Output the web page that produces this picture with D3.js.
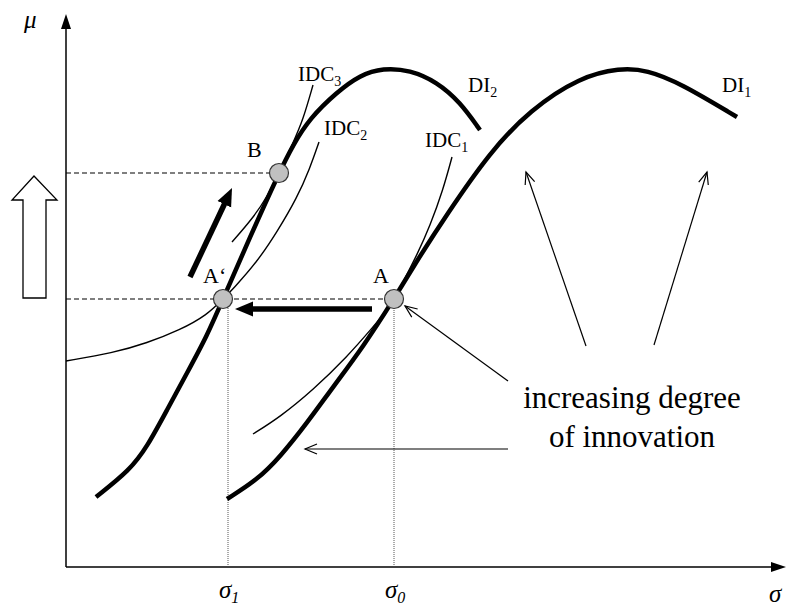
<!DOCTYPE html>
<html>
<head>
<meta charset="utf-8">
<script src="https://cdn.jsdelivr.net/npm/d3@7"></script>
<style>
  body { margin: 0; background: #fff; }
  text { font-family: "Liberation Serif", "Times New Roman", serif; fill: #000; }
</style>
</head>
<body>
<div class="diagram"></div>
<script>
// curve points, [sigma, mu] in chart units (origin = axis corner)
const di1 = [[161,68],[191,87],[214,110],[241,144],[267,180],[297,220],[328,268],[347,300],[381,353],[424,415],[464,457],[514,490],[554,499],[581,497],[614,484],[671,450]];
const di2 = [[30,70],[64,97],[81,120],[101,157],[121,194],[141,231],[157,268],[184,330],[213,394],[227,422],[244,449],[271,475],[294,492],[317,499],[344,497],[371,485],[394,465],[414,437]];
const idc1 = [[187,133],[214,150],[247,177],[281,210],[307,240],[324,260],[328,268],[337,285],[351,312],[364,341],[377,377],[386,410]];
const idc2 = [[0,206],[47,214],[81,224],[114,237],[141,252],[157,268],[167,278],[191,305],[211,335],[231,369],[244,399],[253,425]];
const idc3 = [[166,325],[187,349],[201,370],[213,394],[227,424],[237,447],[247,482]];

const points = [
  {name: "A\u2018", s: 157, m: 268},
  {name: "B", s: 213, m: 394},
  {name: "A", s: 328, m: 268}
];
const sigmaTicks = [{s: 162, sub: "1"}, {s: 328, sub: "0"}];

const thinArrows = [
  [[442,186],[339,261]],
  [[442,118],[239,118]],
  [[520,221],[460,395]],
  [[588,222],[641,395]]
];
const boldArrows = [
  [[306,258],[169,258]],
  [[124,290],[166,379]]
];
const bigArrow = [[-32,391],[-54,367],[-43,367],[-43,269],[-20,269],[-20,367],[-9,367]];

const width = 787;
const height = 608;
const svg = d3.select('.diagram')
    .append('svg')
    .attr('width', width)
    .attr('height', height)

const x = d3.scaleLinear().domain([0, 720]).range([66, 786]);
const y = d3.scaleLinear().domain([0, 555]).range([567, 12]);

const line = d3.line()
    .x(d => x(d[0]))
    .y(d => y(d[1]))
    .curve(d3.curveBasis);

const defs = svg.append('defs');
defs.append('marker')
    .attr('id', 'open')
    .attr('viewBox', '-14 -7 16 14')
    .attr('markerUnits', 'userSpaceOnUse')
    .attr('markerWidth', 16).attr('markerHeight', 14)
    .attr('orient', 'auto')
    .append('path')
    .attr('d', 'M-12,-5 L0,0 L-12,5')
    .attr('fill', 'none')
    .attr('stroke', '#000')
    .attr('stroke-width', 1.2);
defs.append('marker')
    .attr('id', 'solid')
    .attr('viewBox', '-18 -8 19 16')
    .attr('markerUnits', 'userSpaceOnUse')
    .attr('markerWidth', 19).attr('markerHeight', 16)
    .attr('refX', 0)
    .attr('orient', 'auto')
    .append('path')
    .attr('d', 'M-18,-7.5 L0,0 L-18,7.5 Z')
    .attr('fill', '#000');

// axes
svg.append('line')
    .attr('x1', x(0)).attr('y1', y(0))
    .attr('x2', x(0)).attr('y2', y(540))
    .attr('stroke', '#000').attr('stroke-width', 1.5);
svg.append('line')
    .attr('x1', x(0)).attr('y1', y(0))
    .attr('x2', x(706)).attr('y2', y(0))
    .attr('stroke', '#000').attr('stroke-width', 1.5);
svg.append('path')
    .attr('d', `M${x(0)},${y(553)} L${x(0)-5},${y(538)} L${x(0)+5},${y(538)} Z`)
    .attr('fill', '#000');
svg.append('path')
    .attr('d', `M${x(720)},${y(0)} L${x(705)},${y(0)-5} L${x(705)},${y(0)+5} Z`)
    .attr('fill', '#000');

// guide lines
svg.selectAll('.dash')
    .data(points.filter(d => d.name != "A\u2018"))
    .enter()
    .append('line')
    .attr('x1', x(0)).attr('y1', d => y(d.m))
    .attr('x2', d => x(d.s)).attr('y2', d => y(d.m))
    .attr('stroke', '#000')
    .attr('stroke-width', 1.1)
    .attr('stroke-dasharray', '5,3');
svg.selectAll('.dot')
    .data(sigmaTicks)
    .enter()
    .append('line')
    .attr('x1', d => x(d.s)).attr('y1', y(0))
    .attr('x2', d => x(d.s)).attr('y2', y(268))
    .attr('stroke', '#444')
    .attr('stroke-width', 0.9)
    .attr('stroke-dasharray', '1,1');

// indifference curves (thin) and DI curves (thick)
svg.selectAll('.idc')
    .data([idc1, idc2, idc3])
    .enter()
    .append('path')
    .attr('d', line)
    .attr('fill', 'none')
    .attr('stroke', '#000')
    .attr('stroke-width', 1.4);
svg.selectAll('.di')
    .data([di1, di2])
    .enter()
    .append('path')
    .attr('d', line)
    .attr('fill', 'none')
    .attr('stroke', '#000')
    .attr('stroke-width', 4.5);

// arrows
svg.selectAll('.thin')
    .data(thinArrows)
    .enter()
    .append('line')
    .attr('x1', d => x(d[0][0])).attr('y1', d => y(d[0][1]))
    .attr('x2', d => x(d[1][0])).attr('y2', d => y(d[1][1]))
    .attr('stroke', '#000')
    .attr('stroke-width', 1.2)
    .attr('marker-end', 'url(#open)');
svg.selectAll('.bold')
    .data(boldArrows)
    .enter()
    .append('path')
    .attr('d', d => {
        const x1 = x(d[0][0]), y1 = y(d[0][1]), x2 = x(d[1][0]), y2 = y(d[1][1]);
        const len = Math.hypot(x2 - x1, y2 - y1);
        const k = (len - 16) / len;
        return `M${x1},${y1} L${x1 + (x2 - x1) * k},${y1 + (y2 - y1) * k}`;
    })
    .attr('stroke', '#000')
    .attr('stroke-width', 5.5);
svg.selectAll('.boldhead')
    .data(boldArrows)
    .enter()
    .append('line')
    .attr('x1', d => x(d[0][0])).attr('y1', d => y(d[0][1]))
    .attr('x2', d => x(d[1][0])).attr('y2', d => y(d[1][1]))
    .attr('stroke', 'none')
    .attr('marker-end', 'url(#solid)');

svg.append('path')
    .datum(bigArrow)
    .attr('d', d3.line().x(d => x(d[0])).y(d => y(d[1])).curve(d3.curveLinearClosed))
    .attr('fill', '#fff')
    .attr('stroke', '#000')
    .attr('stroke-width', 1.3);

// points
svg.selectAll('circle')
    .data(points)
    .enter()
    .append('circle')
    .attr('cx', d => x(d.s))
    .attr('cy', d => y(d.m))
    .attr('r', 9.5)
    .attr('fill', '#c0c0c0')
    .attr('stroke', '#333')
    .attr('stroke-width', 1.2);

// labels
const labels = [
  {t: "B", px: 247, py: 157},
  {t: "A\u2018", px: 203, py: 283},
  {t: "A", px: 373, py: 283}
];
svg.selectAll('.pt')
    .data(labels)
    .enter()
    .append('text')
    .attr('x', d => d.px)
    .attr('y', d => d.py)
    .attr('font-size', 22)
    .text(d => d.t);

const subLabels = [
  {t: "IDC", s: "3", px: 298, py: 81},
  {t: "IDC", s: "2", px: 324, py: 135},
  {t: "IDC", s: "1", px: 425, py: 147},
  {t: "DI", s: "2", px: 468, py: 92},
  {t: "DI", s: "1", px: 722, py: 92}
];
const sl = svg.selectAll('.sub')
    .data(subLabels)
    .enter()
    .append('text')
    .attr('x', d => d.px)
    .attr('y', d => d.py)
    .attr('font-size', 21);
sl.append('tspan').text(d => d.t);
sl.append('tspan').attr('font-size', 14).attr('dy', 5).text(d => d.s);

svg.append('text')
    .attr('x', 24).attr('y', 28)
    .attr('font-size', 25).attr('font-style', 'italic')
    .text('\u03bc');
svg.append('text')
    .attr('x', 769).attr('y', 602)
    .attr('font-size', 25).attr('font-style', 'italic')
    .text('\u03c3');
const st = svg.selectAll('.sig')
    .data(sigmaTicks)
    .enter()
    .append('text')
    .attr('x', d => x(d.s) - 9)
    .attr('y', 598)
    .attr('font-size', 25)
    .attr('font-style', 'italic');
st.append('tspan').text('\u03c3');
st.append('tspan').attr('font-size', 16).attr('dy', 5).text(d => d.sub);

svg.append('text')
    .attr('x', 632).attr('y', 408)
    .attr('font-size', 31)
    .attr('text-anchor', 'middle')
    .text('increasing degree');
svg.append('text')
    .attr('x', 632).attr('y', 447)
    .attr('font-size', 31)
    .attr('text-anchor', 'middle')
    .text('of innovation');
</script>
</body>
</html>
